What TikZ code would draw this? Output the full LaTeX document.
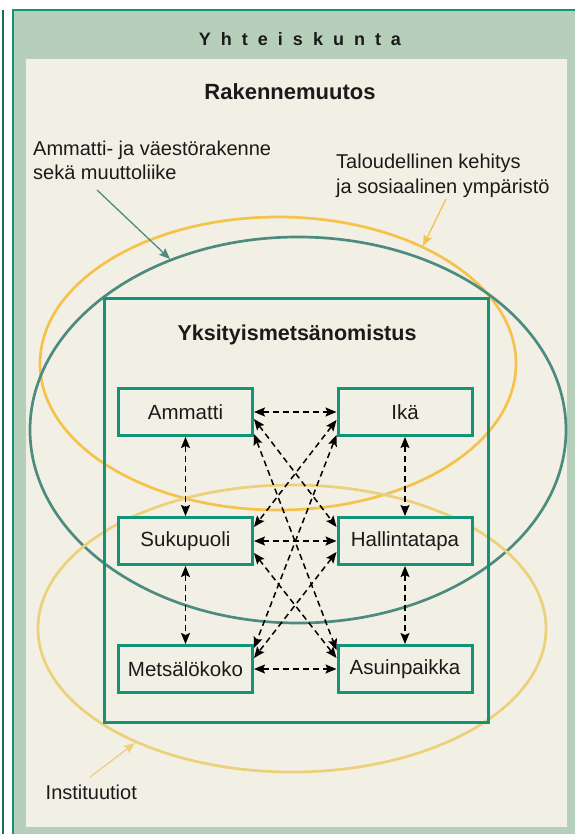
\documentclass[tikz,border=0pt]{standalone}
\usepackage{fontspec}
\setmainfont{Liberation Sans}
\usetikzlibrary{arrows.meta,calc}
\definecolor{panel}{HTML}{B6CFBA}
\definecolor{cream}{HTML}{F2F0E4}
\definecolor{frame}{HTML}{129479}
\definecolor{darkline}{HTML}{1B6E55}
\definecolor{orangeell}{HTML}{F5C24C}
\definecolor{tealell}{HTML}{4E8B7F}
\definecolor{yellowell}{HTML}{ECD07C}
\definecolor{ink}{HTML}{1A1A1A}
\newcommand\ltrgap{\kern10pt}
\begin{document}
\begin{tikzpicture}[x=1pt,y=-1pt,
  box/.style={draw=frame, line width=3pt, fill=cream, minimum width=134pt, minimum height=47pt, inner sep=0pt, text=ink, font=\fontsize{20.5}{24}\selectfont},
  rel/.style={dash pattern=on 6pt off 4pt, line width=1.5pt, {Stealth[length=11pt,width=9pt,inset=2pt]}-{Stealth[length=11pt,width=9pt,inset=2pt]}},
  lbl/.style={anchor=base west, inner sep=0pt, text=ink, font=\fontsize{20}{24}\selectfont},
  ttl/.style={anchor=base, inner sep=0pt, text=ink},
  ptr/.style={line width=1.3pt, -{Stealth[length=11pt,width=9pt,inset=2pt]}},
  ell/.style={line width=2.7pt},
]
\useasboundingbox (0,0) rectangle (575,834);
\fill[white] (0,0) rectangle (575,834);
\draw[darkline, line width=1.2pt] (3,10) -- (3,834);
\fill[panel] (13,10) rectangle (575,834);
\draw[frame, line width=1.5pt] (13,834) -- (13,10) -- (575,10);
\fill[cream] (26,59) rectangle (567,827);

\node[ttl, font=\bfseries\fontsize{18}{21}\selectfont] (yht) at (300,46) {Y\ltrgap h\ltrgap t\ltrgap e\ltrgap i\ltrgap s\ltrgap k\ltrgap u\ltrgap n\ltrgap t\ltrgap a};
\node[ttl, font=\bfseries\fontsize{22}{26}\selectfont] (rak) at (290,100) {Rakennemuutos};

% ellipses
\draw[ell, orangeell] (278,363.5) ellipse [x radius=238, y radius=146.5];
\draw[ell, tealell] (298,430) ellipse [x radius=268, y radius=193];
\draw[ell, yellowell] (292,628.5) ellipse [x radius=254, y radius=143.5];

% labels
\node[lbl] (labA1) at (33,156) {Ammatti- ja väestörakenne};
\node[lbl] (labA2) at (33,180) {sekä muuttoliike};
\node[lbl] (labT1) at (336,169) {Taloudellinen kehitys};
\node[lbl] (labT2) at (336,194) {ja sosiaalinen ympäristö};
\node[lbl] (labI) at (45.5,799) {Instituutiot};

\coordinate (tealpt) at (170,259);
\coordinate (orangept) at (423,246);
\coordinate (yellowpt) at (135,743);
\draw[ptr, tealell] ($(labA2.base west)+(64,10)$) -- (tealpt);
\draw[ptr, orangeell] ($(labT2.base west)+(110,5)$) -- (orangept);
\draw[ptr, yellowell] ($(labI.base west)+(44.5,-22)$) -- (yellowpt);

% main frame
\draw[frame, line width=3pt] (104,298) rectangle (488,722);
\node[ttl, font=\bfseries\fontsize{21.5}{25}\selectfont] (yks) at (297,340) {Yksityismetsänomistus};

% boxes
\node[box] (amm) at (185.5,412) {Ammatti};
\node[box] (ika) at (405,412) {Ikä};
\node[box] (suk) at (185.5,541) {Sukupuoli};
\node[box] (hal) at (405,541) {Hallintatapa};
\node[box] (met) at (185.5,669) {Metsälökoko};
\node[box] (asu) at (405,669) {Asuinpaikka};

% relations
\draw[rel] (amm.east) -- (ika.west);
\draw[rel] (suk.east) -- (hal.west);
\draw[rel] (met.east) -- (asu.west);
\draw[rel] (amm.south) -- (suk.north);
\draw[rel] (suk.south) -- (met.north);
\draw[rel] (ika.south) -- (hal.north);
\draw[rel] (hal.south) -- (asu.north);
\draw[rel] ($(amm.east)+(0,7)$) -- ($(hal.west)+(0,-14)$);
\draw[rel] ($(amm.east)+(0,22)$) -- ($(asu.west)+(0,-19)$);
\draw[rel] ($(ika.west)+(0,8)$) -- ($(suk.east)+(0,-14)$);
\draw[rel] ($(ika.west)+(0,23)$) -- ($(met.east)+(0,-21)$);
\draw[rel] ($(suk.east)+(0,12)$) -- ($(asu.west)+(0,-11)$);
\draw[rel] ($(hal.west)+(0,11)$) -- ($(met.east)+(0,-11)$);
\end{tikzpicture}
\end{document}
